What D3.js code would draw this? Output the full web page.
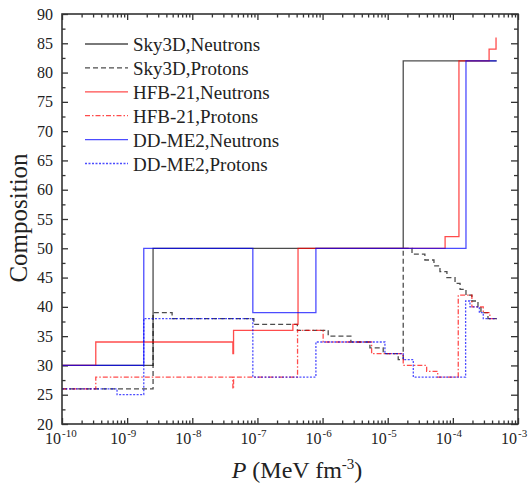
<!DOCTYPE html>
<html>
<head>
<meta charset="utf-8">
<script src="https://cdn.jsdelivr.net/npm/d3@7"></script>
<style>
  body { margin: 0; background: #fff; }
  text { font-family: "Liberation Serif", "Times New Roman", serif; fill: #222; }
</style>
</head>
<body>
<div id="chart"></div>
<script>
// step data: [P, value], value holds until next P
var sky3dNeutrons = [[1e-10, 30], [2.5e-9, 50], [1.73e-5, 82], [4.7e-4, 82]];
var sky3dProtons = [[1e-10, 26], [2.5e-9, 39], [4.9e-9, 38], [8.8e-8, 37], [4.1e-7, 36],
  [1.22e-6, 35], [2.72e-6, 34], [5.33e-6, 33], [8.53e-6, 32], [1.45e-5, 31], [1.73e-5, 50],
  [2.36e-5, 49], [3.72e-5, 48], [5.13e-5, 47], [6.34e-5, 46], [8.11e-5, 45], [1.08e-4, 44],
  [1.29e-4, 43], [1.59e-4, 42], [1.96e-4, 41], [2.43e-4, 40], [2.7e-4, 39], [3.46e-4, 38], [4.7e-4, 38]];
var hfbNeutrons = [[1e-10, 30], [3.3e-10, 34], [4.2e-8, 32], [4.3e-8, 36], [3.5e-7, 37],
  [4.2e-7, 50], [7.6e-5, 52], [1.24e-4, 82], [3.6e-4, 84], [4.6e-4, 86]];
var hfbProtons = [[1e-10, 26], [3.3e-10, 28], [4.2e-8, 26], [4.3e-8, 28], [4.13e-7, 36],
  [1.02e-6, 34], [5.66e-6, 32], [1.73e-5, 30], [3.96e-5, 29], [5.85e-5, 28], [1.21e-4, 42],
  [1.96e-4, 40], [2.93e-4, 39], [3.7e-4, 38], [4.7e-4, 38]];
var ddNeutrons = [[1e-10, 30], [1.8e-9, 50], [8.5e-8, 39], [7.9e-7, 50], [1.59e-4, 82], [4.7e-4, 82]];
var ddProtons = [[1e-10, 26], [7.0e-10, 25], [1.8e-9, 38], [8.5e-8, 28], [7.9e-7, 34],
  [9.06e-6, 32], [1.73e-5, 31], [2.47e-5, 28], [1.57e-4, 41], [1.83e-4, 40], [2.55e-4, 39],
  [2.93e-4, 38], [4.7e-4, 38]];

var seriesNames = ["Sky3D,Neutrons", "Sky3D,Protons", "HFB-21,Neutrons", "HFB-21,Protons", "DD-ME2,Neutrons", "DD-ME2,Protons"];
var seriesData = [sky3dNeutrons, sky3dProtons, hfbNeutrons, hfbProtons, ddNeutrons, ddProtons];

var xMajor = [1e-10, 1e-9, 1e-8, 1e-7, 1e-6, 1e-5, 1e-4, 1e-3];
var xExp = ["-10", "-9", "-8", "-7", "-6", "-5", "-4", "-3"];
var yMajor = [20, 25, 30, 35, 40, 45, 50, 55, 60, 65, 70, 75, 80, 85, 90];

var colors = ["#000", "#000", "#f00", "#f00", "#00f", "#00f"];
var dashes = [null, "5,3", null, "5,2,1.5,2", null, "2,1.5"];

var width = 530, height = 486;
var margin = { top: 14, right: 12, bottom: 62, left: 62 };
var plotW = width - margin.left - margin.right;
var plotH = height - margin.top - margin.bottom;

var svg = d3.select("#chart").append("svg")
  .attr("width", width)
  .attr("height", height);

var g = svg.append("g")
  .attr("transform", `translate(${margin.left},${margin.top})`);

var x = d3.scaleLog().domain([1e-10, 1e-3]).range([0, plotW]);
var y = d3.scaleLinear().domain([20, 90]).range([plotH, 0]);

// minor ticks
var xMinor = [];
for (var e = -10; e < -3; e++) {
  for (var k = 2; k <= 9; k++) xMinor.push(k * Math.pow(10, e));
}
var yMinor = d3.range(22.5, 90, 5);

function styleAxis(sel) {
  sel.select(".domain").remove();
  sel.selectAll("line").attr("stroke", "#333").attr("stroke-width", 1.3);
}

g.append("g").attr("transform", `translate(0,${plotH})`)
  .call(d3.axisBottom(x).tickValues(xMajor).tickSize(-6).tickSizeOuter(0).tickFormat(""))
  .call(styleAxis);
g.append("g").attr("transform", `translate(0,${plotH})`)
  .call(d3.axisBottom(x).tickValues(xMinor).tickSize(-3.5).tickSizeOuter(0).tickFormat(""))
  .call(styleAxis);
g.append("g")
  .call(d3.axisTop(x).tickValues(xMajor).tickSize(-6).tickSizeOuter(0).tickFormat(""))
  .call(styleAxis);
g.append("g")
  .call(d3.axisTop(x).tickValues(xMinor).tickSize(-3.5).tickSizeOuter(0).tickFormat(""))
  .call(styleAxis);

var yAxisL = g.append("g")
  .call(d3.axisLeft(y).tickValues(yMajor).tickSize(-6).tickSizeOuter(0).tickPadding(9))
  .call(styleAxis);
yAxisL.selectAll("text").style("font-size", "16px").attr("fill", "#222")
  .style("font-family", "Liberation Serif");
g.append("g")
  .call(d3.axisLeft(y).tickValues(yMinor).tickSize(-3.5).tickSizeOuter(0).tickFormat(""))
  .call(styleAxis);
g.append("g").attr("transform", `translate(${plotW},0)`)
  .call(d3.axisRight(y).tickValues(yMajor).tickSize(-7).tickSizeOuter(0).tickFormat(""))
  .call(styleAxis);
g.append("g").attr("transform", `translate(${plotW},0)`)
  .call(d3.axisRight(y).tickValues(yMinor).tickSize(-4).tickSizeOuter(0).tickFormat(""))
  .call(styleAxis);

// x tick labels 10^n
xMajor.forEach(function(v, i) {
  var px = x(v);
  g.append("text").attr("x", px - 1).attr("y", plotH + 20)
    .attr("text-anchor", "end").style("font-size", "16px").text("10");
  g.append("text").attr("x", px).attr("y", plotH + 13)
    .style("font-size", "11px").text(xExp[i]);
});

// lines
var line = d3.line()
  .x(d => x(d[0]))
  .y(d => y(d[1]))
  .curve(d3.curveStepAfter);

seriesData.forEach(function(data, i) {
  g.append("path")
    .datum(data)
    .attr("d", line)
    .attr("fill", "none")
    .attr("stroke", colors[i])
    .attr("stroke-opacity", 0.7)
    .attr("stroke-width", 1.3)
    .attr("stroke-dasharray", dashes[i]);
});

// frame
g.append("rect")
  .attr("width", plotW).attr("height", plotH)
  .attr("fill", "none").attr("stroke", "#333").attr("stroke-width", 1.6);

// legend
var legend = g.append("g").attr("transform", "translate(23,37)");
seriesNames.forEach(function(name, i) {
  var row = legend.append("g").attr("transform", `translate(0,${i * 23.9})`);
  row.append("line").attr("x1", 0).attr("x2", 43).attr("y1", -7).attr("y2", -7)
    .attr("stroke", colors[i]).attr("stroke-opacity", 0.7).attr("stroke-width", 1.3)
    .attr("stroke-dasharray", dashes[i]);
  row.append("text").attr("x", 48).attr("y", 0).style("font-size", "19px").text(name);
});

// axis titles
svg.append("text")
  .attr("transform", "translate(27,218) rotate(-90)")
  .attr("text-anchor", "middle")
  .style("font-size", "25px")
  .text("Composition");

var xt = svg.append("text")
  .attr("x", 297).attr("y", 478)
  .attr("text-anchor", "middle")
  .style("font-size", "24px");
xt.append("tspan").style("font-style", "italic").text("P");
xt.append("tspan").text(" (MeV fm");
xt.append("tspan").attr("dy", -9).style("font-size", "15px").text("-3");
xt.append("tspan").attr("dy", 9).text(")");
</script>
</body>
</html>
